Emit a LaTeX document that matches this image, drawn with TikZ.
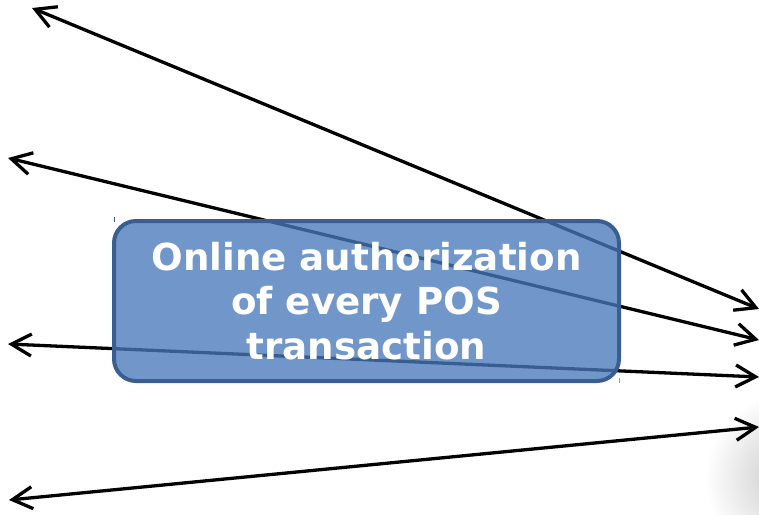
\documentclass[tikz,border=0pt]{standalone}
\usepackage{fontspec}
\setmainfont{DejaVu Sans}
\usepackage{xcolor}
\usepackage{tikz}
\usetikzlibrary{arrows.meta}
\definecolor{boxfill}{RGB}{73,121,187}
\definecolor{boxline}{RGB}{58,94,143}
\tikzset{arr/.style={line width=3.3pt,{Straight Barb[length=20pt,width=22pt]}-{Straight Barb[length=20pt,width=22pt]}}}
\tikzset{box/.style={rectangle,rounded corners=22pt,draw=boxline,line width=4pt,fill=boxfill,fill opacity=0.78,text opacity=1,text=white,minimum width=505pt,minimum height=160pt,align=center,font=\bfseries\fontsize{37.2}{44.5}\selectfont}}

\begin{document}
\begin{tikzpicture}[x=1pt,y=-1pt]
        \useasboundingbox (0,0) rectangle (759,514);
        \begin{scope}
            \clip (0,0) rectangle (759,514);
            \shade[inner color=black!22,outer color=white] (790,478) circle (85);
        \end{scope}

        \coordinate (l1) at (32,8);
        \coordinate (l2) at (8,158);
        \coordinate (l3) at (8,344);
        \coordinate (l4) at (9,500);
        \coordinate (r1) at (759,309);
        \coordinate (r2) at (759,340);
        \coordinate (r3) at (759,377);
        \coordinate (r4) at (759,427);

        \draw [arr] (l1) -- (r1);
        \draw [arr] (l2) -- (r2);
        \draw [arr] (l3) -- (r3);
        \draw [arr] (l4) -- (r4);

        \node[box] (auth) at (366.5,301) {Online authorization\\of every POS\\transaction};

        \draw [boxline,line width=0.8pt] (114,217) -- (114,222);
        \draw [boxline!60,line width=0.8pt] (619,378) -- (619,383);
    \end{tikzpicture}
\end{document}
